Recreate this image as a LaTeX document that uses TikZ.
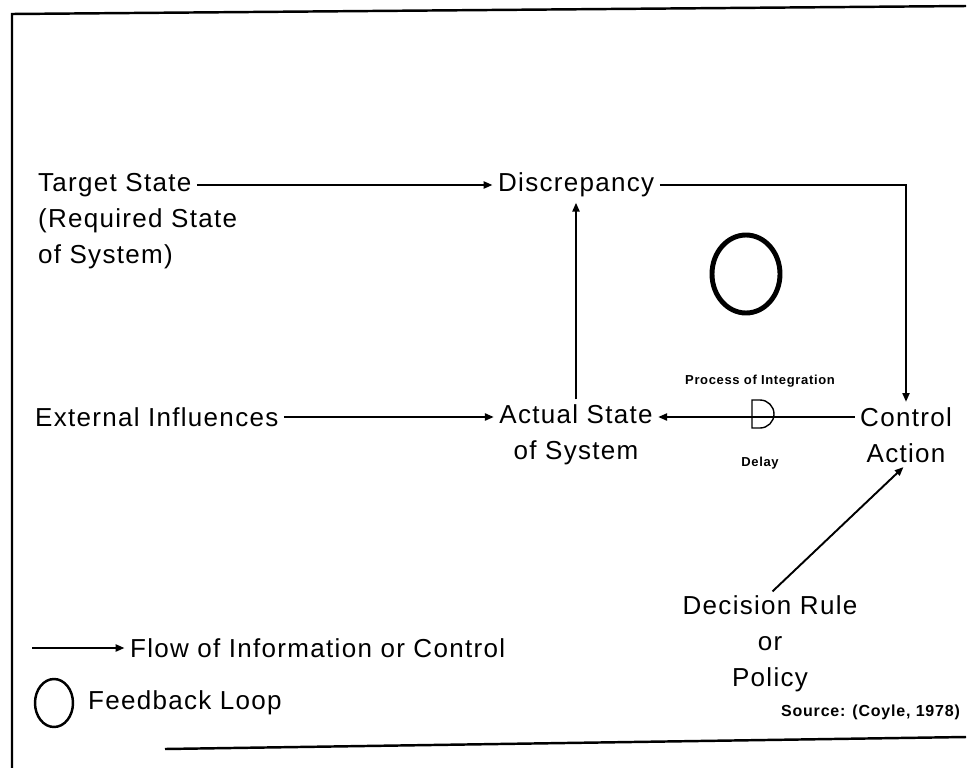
\documentclass[tikz,border=0pt]{standalone}
\usepackage{fontspec}
\setmainfont{Liberation Sans}[LetterSpace=5]
\usetikzlibrary{arrows.meta, positioning, calc}
\newcommand{\mainsz}{\fontsize{14.8pt}{20.5pt}\selectfont}
\newcommand{\smallsz}{\fontsize{7.4pt}{9pt}\selectfont\bfseries}
\newcommand{\srcsz}{\fontsize{9.1pt}{11pt}\selectfont\bfseries}
\tikzset{
	tri/.tip={Triangle[length=5pt, width=4pt]},
	txt/.style={font=\mainsz, inner sep=1pt},
	lbl/.style={font=\smallsz, inner sep=1pt},
	flow/.style={-tri, line width=1.1pt, shorten >=2pt, shorten <=2pt},
	frame/.style={line width=1.4pt}
}

\begin{document}
\begin{tikzpicture}[x=0.02cm, y=-0.02cm]
	\useasboundingbox (0,0) rectangle (971,768);
	% Frame
	\draw[frame] (12,768) -- (12,14) -- (966,6);
	\draw[frame] (165,749) -- (966,737);
	
	% States
	\node[txt, anchor=west] (tgt) at (36,185) {Target State};
	\node[txt, anchor=west, align=left] (req) at (36,239) {(Required State\\of System)};
	\node[txt, anchor=west] (disc) at (496,185) {Discrepancy};
	\node[txt, anchor=west] (ext) at (33,417) {External Influences};
	\node[txt, align=center] (act) at (576,435) {Actual State\\of System};
	\node[txt, align=center] (ctrl) at (906,435) {Control\\Action};
	\node[txt, align=center] (dec) at (770,644) {Decision Rule\\or\\Policy};
	
	% Delay
	\coordinate (dly) at (760,414);
	\node[lbl, above=0.5cm of dly] (integ) {Process of Integration};
	\node[lbl, below=0.82cm of dly] (delay) {Delay};
	\draw[line width=0.8pt] ($(dly)+(-8,-14)$) -- ++(8,0) arc[start angle=-90, end angle=90, radius=14] -- ++(-8,0) -- cycle;
	
	% Loop
	\coordinate (loop) at (746,274);
	\draw[line width=2.8pt] (loop) ellipse [x radius=34, y radius=39];
	
	% Connectors
	\draw[flow] (tgt.east) -- (disc.west);
	\draw[flow] (disc.east) -| (ctrl.north);
	\draw[flow] (act.north) -- (act.north |- disc.south);
	\draw[flow] (ext.east) -- (ext.east -| act.west);
	\draw[flow] (ctrl.west |- ext.east) -- (act.east |- ext.east);
	\draw[flow] (dec.north) -- (ctrl.south);
	
	% Legend
	\coordinate (lgA) at (32,648);
	\node[txt, anchor=west] (flowtxt) at (128,648) {Flow of Information or Control};
	\draw[flow, shorten <=0pt] (lgA) -- (flowtxt.west);
	\coordinate (lgB) at (54,703);
	\draw[frame] (lgB) ellipse [x radius=19, y radius=24];
	\node[txt, anchor=west] (fbtxt) at (86,703) {Feedback Loop};
	\node[font=\srcsz, inner sep=1pt, anchor=east] (src) at (962,712) {Source: (Coyle, 1978)};
\end{tikzpicture}
\end{document}
